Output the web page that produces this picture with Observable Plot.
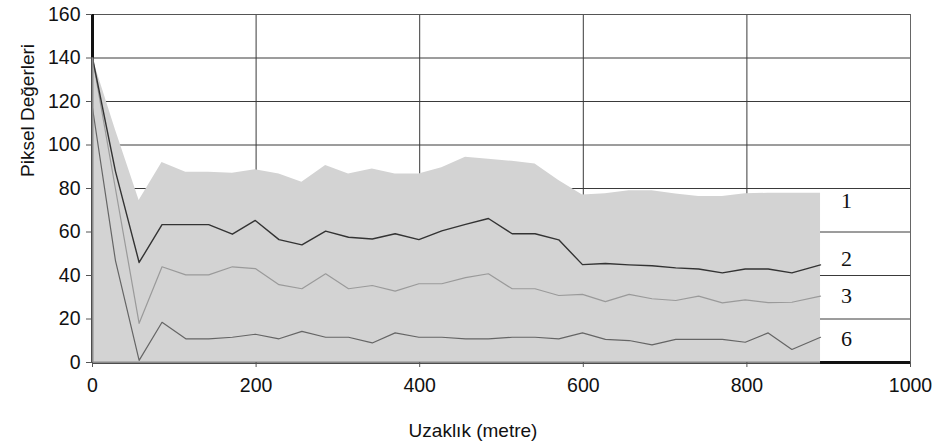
<!DOCTYPE html>
<html><head><meta charset="utf-8">
<script src="https://cdn.jsdelivr.net/npm/d3@7"></script>
<script src="https://cdn.jsdelivr.net/npm/@observablehq/plot@0.6"></script>
<style>
html,body{margin:0;padding:0;background:#fff;}
</style></head>
<body><div id="chart"></div>
<script>
// distance along the profile (metre)
const distance = [0, 28, 57, 85, 114, 142, 171, 199, 228, 256, 285, 313, 342, 370, 399, 427, 456, 484, 513, 541, 570, 599, 627, 656, 684, 713, 741, 770, 798, 826, 855, 890];
// band 1 (filled area)
const band1 = [140, 107, 74.5, 92, 87.5, 87.5, 87, 88.6, 86.7, 82.9, 90.6, 86.7, 89, 86.7, 86.7, 89.5, 94.4, 93.5, 92.5, 91.3, 83.7, 77, 77.6, 79, 79, 77.5, 76.3, 76.3, 77.6, 77.8, 77.8, 77.8];
// band 2
const band2 = [140, 88, 46, 63.4, 63.4, 63.4, 59, 65.3, 56.5, 54.1, 60.4, 57.6, 56.8, 59.2, 56.5, 60.5, 63.5, 66.2, 59.2, 59.2, 56.4, 45, 45.5, 44.9, 44.5, 43.5, 43, 41.2, 43, 43, 41.2, 44.9];
// band 3
const band3 = [140, 80, 18, 44, 40.3, 40.3, 44, 43.2, 35.8, 33.9, 40.8, 33.9, 35.4, 32.8, 36.2, 36.2, 39, 40.8, 33.9, 33.9, 30.8, 31.3, 28, 31.3, 29.3, 28.5, 30.5, 27.4, 28.8, 27.5, 27.7, 30.5];
// band 6
const band6 = [117, 47, 1, 18.5, 10.9, 10.9, 11.6, 13, 10.9, 14.3, 11.6, 11.6, 9, 13.6, 11.6, 11.6, 10.9, 10.9, 11.6, 11.6, 10.9, 13.6, 10.6, 10.1, 8.1, 10.6, 10.6, 10.6, 9.3, 13.6, 6, 11.6];

const seriesNames = ["1", "2", "3", "6"];
const xTicks = [0, 200, 400, 600, 800, 1000];
const yTicks = [0, 20, 40, 60, 80, 100, 120, 140, 160];
const xTitle = "Uzaklık (metre)";
const yTitle = "Piksel Değerleri";

// styling (not data)
const labelNudge = [8, -6, 0, 2];

const rows = distance.map((d, i) => ({d, s1: band1[i], s2: band2[i], s3: band3[i], s6: band6[i]}));
const lastIdx = rows.length - 1;
const seriesLast = [band1[lastIdx], band2[lastIdx], band3[lastIdx], band6[lastIdx]];

const sans = "'Liberation Sans', Arial, sans-serif";
const serif = "'Liberation Serif', 'Times New Roman', serif";
const plain = d => String(d);

const chart = Plot.plot({
  width: 937,
  height: 445,
  marginLeft: 92,
  marginRight: 27,
  marginTop: 14,
  marginBottom: 83,
  style: {fontFamily: sans, fontSize: "19.5px", background: "#fff", color: "#111", overflow: "visible"},
  x: {domain: [0, 1000], label: null},
  y: {domain: [0, 160], label: null},
  marks: [
    // grid
    Plot.ruleX(xTicks.slice(1, -1), {stroke: "#3a3a3a", strokeWidth: 1}),
    Plot.ruleY(yTicks.slice(1, -1), {stroke: "#3a3a3a", strokeWidth: 1}),
    Plot.ruleY([yTicks[yTicks.length - 1]], {stroke: "#555", strokeWidth: 1}),
    Plot.ruleX([xTicks[xTicks.length - 1]], {stroke: "#666", strokeWidth: 1}),
    Plot.ruleX([0], {stroke: "#111", strokeWidth: 3}),
    Plot.ruleY([0], {stroke: "#111", strokeWidth: 3}),
    // band 1 area
    Plot.areaY(rows, {x: "d", y: "s1", fill: "#d3d3d3"}),
    // lines
    Plot.lineY(rows, {x: "d", y: "s6", stroke: "#656565", strokeWidth: 1.2}),
    Plot.lineY(rows, {x: "d", y: "s3", stroke: "#9a9a9a", strokeWidth: 1.2}),
    Plot.lineY(rows, {x: "d", y: "s2", stroke: "#333", strokeWidth: 1.4}),
    // axis lines over the area
    Plot.ruleX([0], {y1: 0, y2: band1[0], stroke: "#8a8a8a", strokeWidth: 2}),
    Plot.ruleY([0], {x1: 0, x2: distance[lastIdx], stroke: "#8a8a8a", strokeWidth: 2}),
    // axes
    Plot.axisX({ticks: xTicks, tickFormat: plain, tickSize: 5, tickPadding: 11, stroke: "#555", fill: "#111", label: null}),
    Plot.axisY({ticks: yTicks, tickFormat: plain, tickSize: 6, tickPadding: 6, stroke: "#555", fill: "#111", label: null}),
    // titles
    Plot.text([xTitle], {frameAnchor: "bottom", dx: -28.5, dy: 74, lineAnchor: "bottom", fontSize: 19, fill: "#111", fontFamily: sans}),
    Plot.text([yTitle], {frameAnchor: "left", rotate: -90, dx: -59, dy: -11.5, lineAnchor: "bottom", fontSize: 19, fill: "#111", fontFamily: sans}),
    // series labels
    ...seriesNames.map((name, i) =>
      Plot.text([{name, v: seriesLast[i]}], {
        y: "v", text: "name", frameAnchor: "right", dx: -64, dy: labelNudge[i],
        fontFamily: serif, fontSize: 22, fill: "#111", textAnchor: "middle"
      })
    )
  ]
});
document.getElementById("chart").appendChild(chart);
</script>
</body></html>
